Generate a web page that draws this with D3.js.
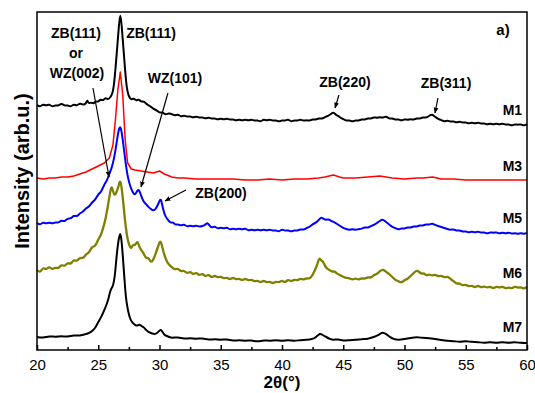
<!DOCTYPE html>
<html>
<head>
<meta charset="utf-8">
<script src="https://cdn.jsdelivr.net/npm/d3@7"></script>
<style>
  body { margin: 0; background: #fff; }
  svg { display: block; font-family: "Liberation Sans", Arial, sans-serif; }
</style>
</head>
<body>
<svg id="chart"></svg>
<script>
// stacked XRD patterns, [2theta, intensity (arb.u., offset included)]
const m1 = [[20,245],[20.25,243],[20.5,246],[20.75,244],[21,246],[21.25,243],[21.5,245],[21.75,244],[22,247],[22.25,244],[22.5,245],[22.75,243],[23,246],[23.25,244],[23.5,247],[23.75,245],[24,246],[24.1,251],[24.2,246],[24.4,248],[24.6,246],[24.8,249],[25,248],[25.2,251],[25.4,249],[25.6,253],[25.8,250],[26,253],[26.15,256],[26.3,265],[26.5,295],[26.7,327],[26.8,338],[26.9,327],[27.1,295],[27.3,262],[27.5,253],[27.7,250],[27.9,252],[28.1,249],[28.3,251],[28.5,248],[28.75,249],[29,245],[29.25,244],[29.5,241],[29.75,240],[30,237],[30.25,238],[30.5,235],[30.75,237],[31,236],[31.25,234],[31.5,236],[31.75,233],[32,235],[32.25,233],[32.5,234],[32.75,232],[33,234],[33.25,232],[33.5,233],[33.75,231],[34,233],[34.25,231],[34.5,232],[34.75,230],[35,232],[35.25,230],[35.5,232],[35.75,230],[36,231],[36.25,229],[36.5,231],[36.75,229],[37,231],[37.25,229],[37.5,231],[37.75,229],[38,230],[38.25,228],[38.5,231],[38.75,229],[39,231],[39.25,229],[39.5,230],[39.75,228],[40,230],[40.25,229],[40.5,231],[40.75,228],[41,230],[41.25,229],[41.5,231],[41.75,229],[42,230],[42.25,229],[42.5,231],[42.75,230],[43,232],[43.25,231],[43.5,233],[43.75,234],[44,236],[44.2,238],[44.4,235],[44.6,234],[44.8,232],[45,231],[45.25,229],[45.5,230],[45.75,228],[46,230],[46.25,229],[46.5,231],[46.75,230],[47,232],[47.25,231],[47.5,233],[47.75,232],[48,233],[48.25,232],[48.5,234],[48.75,231],[49,232],[49.25,230],[49.5,231],[49.75,229],[50,231],[50.25,230],[50.5,231],[50.75,230],[51,232],[51.25,231],[51.5,233],[51.75,232],[52,234],[52.25,236],[52.5,233],[52.75,231],[53,230],[53.25,228],[53.5,230],[53.75,228],[54,229],[54.25,227],[54.5,229],[54.75,227],[55,228],[55.25,226],[55.5,228],[55.75,226],[56,228],[56.25,226],[56.5,227],[56.75,225],[57,227],[57.25,225],[57.5,227],[57.75,225],[58,227],[58.25,225],[58.5,226],[58.75,224],[59,226],[59.25,225],[59.5,226],[59.75,224],[60,226]];
const m3 = [[20,172],[20.5,171],[21,172],[21.5,172],[22,173],[22.5,173],[23,174],[23.5,176],[24,178],[24.5,181],[25,184],[25.5,187],[25.9,192],[26.2,205],[26.4,230],[26.6,260],[26.8,278],[27,255],[27.2,210],[27.4,187],[27.7,181],[28,180],[28.5,179],[29,178],[29.5,177],[30,179],[30.4,176],[31,173],[31.5,172],[32,172],[33,171],[34,171],[35,171],[36,171],[37,170],[38,170],[39,171],[40,170],[41,171],[42,171],[43,172],[43.5,173],[44.2,175],[44.7,173],[45,172],[46,172],[47,173],[48,174],[48.5,173],[49,172],[50,171],[51,172],[51.5,172],[52.3,173],[53,171],[54,171],[55,170],[56,170],[57,170],[58,170],[59,170],[60,170]];
const m5 = [[20,127],[20.25,125],[20.5,128],[20.75,126],[21,128],[21.25,126],[21.5,128],[21.75,127],[22,130],[22.25,128],[22.5,132],[22.75,131],[23,135],[23.25,133],[23.5,137],[23.75,138],[24,142],[24.25,143],[24.5,148],[24.75,150],[25,156],[25.25,158],[25.5,166],[25.7,169],[25.9,176],[26.1,182],[26.3,192],[26.45,203],[26.6,216],[26.8,227],[27,211],[27.2,190],[27.4,173],[27.6,164],[27.8,158],[27.95,155],[28.1,157],[28.3,162],[28.5,154],[28.7,148],[28.9,146],[29.1,143],[29.3,141],[29.5,139],[29.7,141],[29.9,146],[30.05,151],[30.15,150],[30.3,140],[30.5,133],[30.7,130],[30.9,127],[31.1,128],[31.3,125],[31.5,126],[31.75,124],[32,126],[32.25,123],[32.5,125],[32.75,123],[33,125],[33.25,123],[33.5,124],[33.75,125],[33.9,128],[34.1,124],[34.25,122],[34.5,124],[34.75,121],[35,123],[35.25,121],[35.5,123],[35.75,120],[36,122],[36.25,120],[36.5,122],[36.75,120],[37,122],[37.25,119],[37.5,121],[37.75,119],[38,121],[38.25,119],[38.5,121],[38.75,119],[39,121],[39.25,119],[39.5,120],[39.75,118],[40,121],[40.25,119],[40.5,120],[40.75,118],[41,120],[41.25,119],[41.5,121],[41.75,120],[42,122],[42.25,123],[42.5,126],[42.75,127],[43,130],[43.2,133],[43.4,131],[43.6,130],[43.8,131],[44,129],[44.25,128],[44.5,126],[44.75,124],[45,122],[45.25,121],[45.5,120],[45.75,121],[46,120],[46.25,121],[46.5,121],[46.75,123],[47,122],[47.25,124],[47.5,125],[47.75,127],[48,129],[48.2,131],[48.4,129],[48.6,127],[48.8,125],[49,123],[49.25,122],[49.5,120],[49.75,122],[50,121],[50.25,123],[50.5,122],[50.75,124],[51,123],[51.25,125],[51.5,124],[51.75,126],[52,125],[52.25,127],[52.5,125],[52.75,124],[53,123],[53.25,122],[53.5,121],[53.75,120],[54,121],[54.25,119],[54.5,120],[54.75,118],[55,119],[55.25,117],[55.5,119],[55.75,117],[56,119],[56.25,117],[56.5,118],[56.75,116],[57,118],[57.25,117],[57.5,118],[57.75,116],[58,118],[58.25,116],[58.5,118],[58.75,116],[59,117],[59.25,116],[59.5,117],[59.75,116],[60,117]];
const m6 = [[20,80],[20.25,77],[20.5,83],[20.75,80],[21,84],[21.25,80],[21.5,83],[21.75,81],[22,86],[22.25,83],[22.5,88],[22.75,85],[23,91],[23.25,88],[23.5,93],[23.75,91],[24,96],[24.25,97],[24.5,104],[24.75,103],[25,111],[25.2,114],[25.4,122],[25.6,131],[25.8,145],[26,160],[26.1,165],[26.3,153],[26.5,158],[26.65,163],[26.8,172],[26.95,159],[27.1,140],[27.25,122],[27.4,110],[27.55,104],[27.7,101],[27.85,106],[28,104],[28.2,110],[28.35,103],[28.5,100],[28.7,97],[28.9,91],[29.1,93],[29.3,87],[29.5,90],[29.7,97],[29.9,104],[30.1,111],[30.25,101],[30.4,95],[30.6,88],[30.8,85],[31,83],[31.25,80],[31.5,82],[31.75,78],[32,80],[32.25,76],[32.5,79],[32.75,75],[33,78],[33.25,74],[33.5,77],[33.75,73],[34,76],[34.25,72],[34.5,75],[34.75,72],[35,74],[35.25,71],[35.5,73],[35.75,70],[36,73],[36.25,70],[36.5,72],[36.75,69],[37,72],[37.25,69],[37.5,71],[37.75,68],[38,70],[38.25,67],[38.5,70],[38.75,67],[39,69],[39.25,66],[39.5,69],[39.75,67],[40,70],[40.25,67],[40.5,71],[40.75,68],[41,71],[41.25,69],[41.5,72],[41.75,70],[42,72],[42.25,71],[42.5,75],[42.7,80],[42.9,86],[43.05,93],[43.2,89],[43.35,89],[43.5,84],[43.7,81],[43.9,80],[44.1,78],[44.3,79],[44.5,76],[44.75,75],[45,73],[45.25,72],[45.5,72],[45.75,70],[46,72],[46.25,70],[46.5,72],[46.75,71],[47,73],[47.25,72],[47.5,75],[47.75,76],[48,79],[48.25,81],[48.5,78],[48.75,76],[49,73],[49.25,70],[49.5,69],[49.75,67],[50,70],[50.25,71],[50.5,74],[50.75,77],[51,80],[51.2,78],[51.4,76],[51.6,77],[51.8,74],[52,76],[52.25,74],[52.5,76],[52.75,73],[53,75],[53.25,72],[53.5,74],[53.75,71],[54,69],[54.25,66],[54.5,67],[54.75,64],[55,66],[55.25,63],[55.5,65],[55.75,62],[56,65],[56.25,62],[56.5,64],[56.75,62],[57,64],[57.25,61],[57.5,64],[57.75,62],[58,64],[58.25,61],[58.5,63],[58.75,61],[59,64],[59.25,62],[59.5,63],[59.75,61],[60,63]];
const m7 = [[20,13],[20.5,12],[21,14],[21.5,13],[22,14],[22.5,13],[23,15],[23.5,14],[24,16],[24.3,17],[24.6,20],[24.8,23],[25,28],[25.25,33],[25.5,40],[25.7,46],[25.85,52],[26,60],[26.1,62],[26.2,64],[26.35,72],[26.5,95],[26.65,110],[26.8,119],[26.9,110],[27,95],[27.1,78],[27.2,60],[27.3,48],[27.45,38],[27.6,31],[27.8,27],[28,25],[28.2,24],[28.35,26],[28.5,24],[28.7,23],[28.9,20],[29.1,18],[29.3,17],[29.5,16],[29.7,16],[29.9,18],[30.1,21],[30.25,18],[30.4,15],[30.6,14],[30.8,13],[31,12],[31.5,13],[32,11],[32.5,12],[33,11],[33.5,12],[34,10],[34.5,11],[35,10],[35.5,11],[36,9],[36.5,10],[37,9],[37.5,10],[38,8],[38.5,10],[39,9],[39.5,10],[40,9],[40.5,10],[41,9],[41.5,10],[42,10],[42.5,11],[42.8,13],[43.1,17],[43.3,15],[43.6,13],[43.9,11],[44.2,10],[44.6,11],[45,9],[45.5,10],[46,10],[46.5,11],[47,11],[47.5,13],[47.9,15],[48.2,18],[48.5,16],[48.8,13],[49.1,11],[49.5,10],[50,11],[50.5,12],[51,13],[51.5,12],[52,12],[52.5,11],[53,10],[53.5,9],[54,9],[54.5,8],[55,9],[55.5,8],[56,8],[56.5,7],[57,8],[57.5,7],[58,8],[58.5,7],[59,8],[59.5,7],[60,7]];

const seriesNames = ["M1", "M3", "M5", "M6", "M7"];
const seriesColors = ["#000000", "#ff0000", "#0000ff", "#808000", "#000000"];
const seriesLabelY = [235, 179, 127, 72, 18];
const xTicks = [20, 25, 30, 35, 40, 45, 50, 55, 60];
const xMinorTicks = [22.5, 27.5, 32.5, 37.5, 42.5, 47.5, 52.5, 57.5];

// peak labels: [text, x, y] and arrows: [x1, y1, x2, y2]
const peakLabels = [["ZB(111)", 23.18, 312], ["or", 23.18, 292], ["WZ(002)", 23.26, 272],
  ["ZB(111)", 29.31, 312], ["WZ(101)", 31.27, 267], ["ZB(200)", 35.02, 152],
  ["ZB(220)", 45.14, 263], ["ZB(311)", 53.39, 262]];
const peakArrows = [[24.57, 262, 25.88, 173], [30.69, 257, 28.49, 163], [32.16, 160, 30.45, 149],
  [44.65, 255, 44.33, 242], [52.73, 252, 52.49, 237]];

const width = 535, height = 393;
const margin = {top: 12, right: 8, bottom: 43, left: 37};

const svg = d3.select("#chart").attr("width", width).attr("height", height);

const x = d3.scaleLinear().domain([20, 60]).range([margin.left, width - margin.right]);
const y = d3.scaleLinear().domain([0, 338]).range([height - margin.bottom, margin.top]);

svg.append("defs").append("marker")
  .attr("id", "head")
  .attr("viewBox", "0 0 10 10")
  .attr("refX", 9).attr("refY", 5)
  .attr("markerWidth", 5).attr("markerHeight", 5)
  .attr("orient", "auto")
  .append("path").attr("d", "M0,1L10,5L0,9Z").attr("fill", "#000");

// noisy traces get a basis curve, the cleaner red one stays linear
const line = d3.line().x(d => x(d[0])).y(d => y(d[1])).curve(d3.curveBasis);
const lineLin = d3.line().x(d => x(d[0])).y(d => y(d[1]));

[m1, m3, m5, m6, m7].forEach((s, i) => {
  svg.append("path")
    .attr("d", i == 1 ? lineLin(s) : line(s))
    .attr("fill", "none")
    .attr("stroke", seriesColors[i])
    .attr("stroke-width", i == 1 ? 1.5 : (i == 3 ? 2.3 : 2))
    .attr("stroke-linejoin", "round");
  svg.append("text")
    .attr("x", x(59.6)).attr("y", y(seriesLabelY[i]))
    .attr("text-anchor", "end")
    .attr("font-size", 14).attr("font-weight", "bold")
    .text(seriesNames[i]);
});

// frame
svg.append("rect")
  .attr("x", margin.left).attr("y", margin.top)
  .attr("width", width - margin.left - margin.right)
  .attr("height", height - margin.top - margin.bottom)
  .attr("fill", "none").attr("stroke", "#000").attr("stroke-width", 1.5);

const ax = svg.append("g")
  .attr("transform", "translate(0," + (height - margin.bottom) + ")")
  .call(d3.axisBottom(x).tickValues(xTicks).tickSize(-5).tickPadding(9).tickFormat(d3.format("d")));
ax.select(".domain").remove();
ax.selectAll(".tick line").attr("stroke-width", 1.5);
ax.selectAll("text").attr("font-size", 15).attr("font-family", "Liberation Sans, Arial, sans-serif").attr("fill", "#000");

const axm = svg.append("g")
  .attr("transform", "translate(0," + (height - margin.bottom) + ")")
  .call(d3.axisBottom(x).tickValues(xMinorTicks).tickSize(-3).tickFormat(""));
axm.select(".domain").remove();
axm.selectAll(".tick line").attr("stroke-width", 1.5);

svg.append("text")
  .attr("x", x(40)).attr("y", 388)
  .attr("text-anchor", "middle")
  .attr("font-size", 17).attr("font-weight", "bold")
  .text("2θ(°)");

svg.append("text")
  .attr("transform", "translate(29," + y(179) + ") rotate(-90)")
  .attr("text-anchor", "middle")
  .attr("font-size", 20).attr("font-weight", "bold")
  .text("Intensity (arb.u.)");

peakLabels.forEach(p => {
  svg.append("text")
    .attr("x", x(p[1])).attr("y", y(p[2]))
    .attr("text-anchor", "middle")
    .attr("font-size", 14).attr("font-weight", "bold")
    .text(p[0]);
});

peakArrows.forEach(a => {
  svg.append("line")
    .attr("x1", x(a[0])).attr("y1", y(a[1]))
    .attr("x2", x(a[2])).attr("y2", y(a[3]))
    .attr("stroke", "#000").attr("stroke-width", 1.2)
    .attr("marker-end", "url(#head)");
});

svg.append("text")
  .attr("x", x(58.04)).attr("y", y(315))
  .attr("text-anchor", "middle")
  .attr("font-size", 15).attr("font-weight", "bold")
  .text("a)");
</script>
</body>
</html>
